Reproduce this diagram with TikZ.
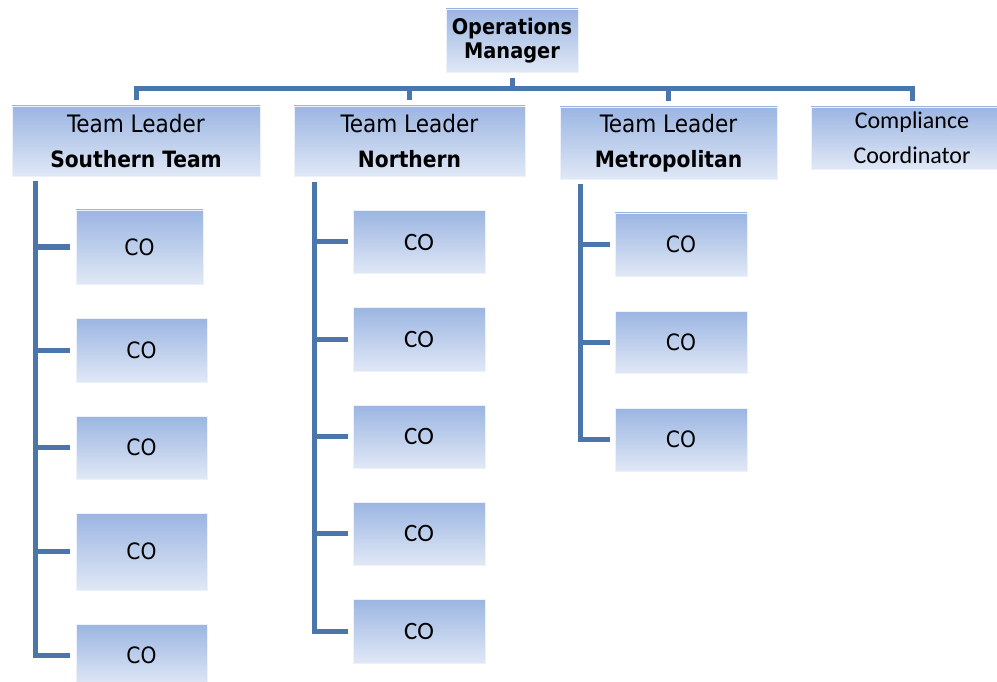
\documentclass[tikz,border=0pt]{standalone}
\usepackage{fontspec}
\setmainfont{DejaVu Sans Condensed}
\newfontfamily\calfont{Carlito}
\definecolor{linec}{RGB}{74,118,172}
\definecolor{boxtop}{RGB}{155,181,226}
\definecolor{boxbot}{RGB}{224,232,246}
\begin{document}
\begin{tikzpicture}[x=1pt,y=-1pt,
  box/.style={rectangle, inner sep=0pt, top color=boxtop, bottom color=boxbot,
    draw=boxbot!60!white, line width=0.6pt, align=center, text=black},
  conn/.style={draw=linec, line width=5pt},
  reg/.style={font=\fontsize{24}{35}\selectfont},
  cobox/.style={box, minimum width=131pt, minimum height=63pt, font=\fontsize{22.5}{26}\selectfont},
  cocal/.style={box, minimum width=132pt, minimum height=63pt, font=\calfont\fontsize{25}{28}\selectfont}]
\useasboundingbox (0,0) rectangle (997,682);

% top
\node[box, minimum width=132pt, minimum height=63pt, font=\fontsize{21.5}{24}\selectfont\bfseries]
  (om) at (512,40.5) {Operations\\Manager};

% team leaders
\node[box, reg, minimum width=248pt, minimum height=70pt] (tlS) at (136,141)
  {Team Leader\\{\fontsize{22.5}{35}\selectfont\bfseries Southern Team}};
\node[box, reg, minimum width=231pt, minimum height=70pt] (tlN) at (409.5,141)
  {Team Leader\\{\fontsize{22.5}{35}\selectfont\bfseries Northern}};
\node[box, reg, minimum width=217pt, minimum height=72pt] (tlM) at (668.5,143)
  {Team Leader\\{\fontsize{22.5}{35}\selectfont\bfseries Metropolitan}};
\node[box, minimum width=202pt, minimum height=62pt, font=\calfont\fontsize{24}{35}\selectfont]
  (cc) at (912,138) {Compliance\\Coordinator};

% bus
\coordinate (bus) at (512,88.5);
\draw[conn, shorten <=6pt] (om.south) -- (om.south |- bus);
\draw[conn, shorten <=6pt, shorten >=6pt] (tlS.north) |- (bus) -| (cc.north);
\draw[conn, shorten >=6pt] (tlN.north |- bus) -- (tlN.north);
\draw[conn, shorten >=6pt] (tlM.north |- bus) -- (tlM.north);

% Southern COs
\node[cobox, minimum width=127pt, minimum height=74pt] (s1) at (139.5,247) {CO};
\node[cobox, minimum height=64pt] (s2) at (141.5,350) {CO};
\node[cobox] (s3) at (141.5,447.5) {CO};
\node[cobox, minimum height=77pt] (s4) at (141.5,551.5) {CO};
\node[cobox, minimum height=62pt] (s5) at (141.5,655) {CO};

% Northern COs
\node[cocal] (n1) at (419,242) {CO};
\node[cocal, minimum height=64pt] (n2) at (419,339) {CO};
\node[cocal] (n3) at (419,436.5) {CO};
\node[cocal] (n4) at (419,533.5) {CO};
\node[cocal, minimum height=64pt] (n5) at (419,631) {CO};

% Metropolitan COs
\node[cobox, minimum width=132pt] (m1) at (681,244.5) {CO};
\node[cobox, minimum width=132pt, minimum height=62pt] (m2) at (681,342) {CO};
\node[cobox, minimum width=132pt] (m3) at (681,439.5) {CO};

% Southern tree
\coordinate (sv) at (35,176);
\draw[conn, shorten <=5pt, shorten >=6pt] (sv) |- (s5.west);
\foreach \i in {1,2,3,4} \draw[conn, shorten >=6pt] (sv |- s\i.west) -- (s\i.west);

% Northern tree
\coordinate (nv) at (314,176);
\draw[conn, shorten <=6pt, shorten >=5pt] (nv) |- (n5.west);
\foreach \i in {1,2,3,4} \draw[conn, shorten >=5pt] (nv |- n\i.west) -- (n\i.west);

% Metropolitan tree
\coordinate (mv) at (580,179);
\draw[conn, shorten <=5pt, shorten >=5pt] (mv) |- (m3.west);
\foreach \i in {1,2} \draw[conn, shorten >=5pt] (mv |- m\i.west) -- (m\i.west);
\end{tikzpicture}
\end{document}
